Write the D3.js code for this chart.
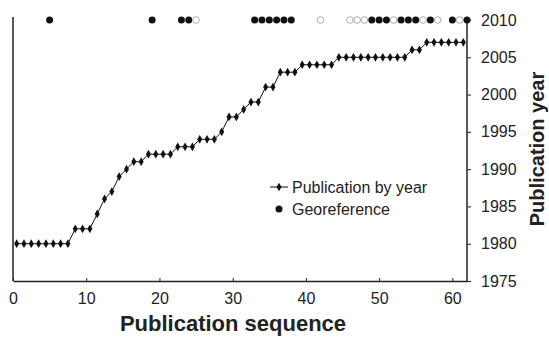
<!DOCTYPE html>
<html>
<head>
<meta charset="utf-8">
<script src="https://cdn.jsdelivr.net/npm/d3@7"></script>
<style>
  body { margin: 0; background: #fff; }
  svg text { font-family: "Liberation Sans", Arial, sans-serif; fill: #222; }
</style>
</head>
<body>
<div class="chart"></div>
<script>
// publication year of papers 1..62, in sequence order
const pubYears = [
    1980, 1980, 1980, 1980, 1980, 1980, 1980, 1980,
    1982, 1982, 1982, 1984, 1986, 1987, 1989, 1990,
    1991, 1991, 1992, 1992, 1992, 1992, 1993, 1993,
    1993, 1994, 1994, 1994, 1995, 1997, 1997, 1998,
    1999, 1999, 2001, 2001, 2003, 2003, 2003, 2004,
    2004, 2004, 2004, 2004, 2005, 2005, 2005, 2005,
    2005, 2005, 2005, 2005, 2005, 2005, 2006, 2006,
    2007, 2007, 2007, 2007, 2007, 2007
];
// georeferenced (filled) and not georeferenced (open) marks on the 2010 row, by sequence value
const geoFilled = [5, 19, 23, 24, 33, 34, 35, 36, 37, 38, 49, 50, 51, 53, 54, 55, 57, 60, 62];
const geoOpen = [25, 42, 46, 47, 48, 52, 56, 58, 61];
const xTicks = [0, 10, 20, 30, 40, 50, 60];
const yTicks = [1975, 1980, 1985, 1990, 1995, 2000, 2005, 2010];
const legendItems = ["Publication by year", "Georeference"];

const width = 549, height = 339;
const margin = {left: 13, right: 82, top: 20, bottom: 58};

const svg = d3.select(".chart").append("svg")
    .attr("width", width)
    .attr("height", height);

const x = d3.scaleLinear()
    .domain([0, 62])
    .range([margin.left, width - margin.right]);
// each paper sits in the middle of its own slot along the axis
const seq = d3.scaleBand()
    .domain(d3.range(1, 63))
    .range(x.range());
const sx = n => seq(n) + seq.bandwidth() / 2;
const y = d3.scaleLinear()
    .domain([1975, 2010])
    .range([height - margin.bottom, margin.top]);

const axisTop = y(2010) - 3;

// left frame line
svg.append("line")
    .attr("x1", x(0)).attr("x2", x(0))
    .attr("y1", axisTop).attr("y2", y(1975))
    .attr("stroke", "#222").attr("stroke-width", 1.5);

// bottom axis
const xAxis = svg.append("g")
    .attr("transform", `translate(0,${y(1975)})`)
    .call(d3.axisBottom(x).tickValues(xTicks).tickSize(0).tickPadding(12));
xAxis.select(".domain").attr("stroke", "#222").attr("stroke-width", 1.5);
xAxis.selectAll(".tick").append("line")
    .attr("y1", 0).attr("y2", -3).attr("stroke", "#222");
xAxis.selectAll("text").style("font-size", "16px").attr("fill", "#222");

// right axis
const yAxis = svg.append("g")
    .attr("transform", `translate(${x(62)},0)`)
    .call(d3.axisRight(y).tickValues(yTicks).tickSize(4).tickPadding(10).tickFormat(d3.format("d")));
yAxis.select(".domain").remove();
yAxis.append("line")
    .attr("x1", 0).attr("x2", 0)
    .attr("y1", axisTop).attr("y2", y(1975))
    .attr("stroke", "#222").attr("stroke-width", 1.5);
yAxis.selectAll(".tick line").attr("stroke", "#222");
yAxis.selectAll("text").style("font-size", "16px").attr("fill", "#222");

// axis titles
svg.append("text")
    .attr("x", 233).attr("y", 331)
    .attr("text-anchor", "middle")
    .style("font-size", "22px").style("font-weight", "bold")
    .text("Publication sequence");
svg.append("text")
    .attr("transform", `translate(544,149) rotate(-90)`)
    .attr("text-anchor", "middle")
    .style("font-size", "20px").style("font-weight", "bold")
    .text("Publication year");

// publication step line
const line = d3.line()
    .x((d, i) => sx(i + 1))
    .y(d => y(d));
svg.append("path")
    .datum(pubYears)
    .attr("d", line)
    .attr("fill", "none")
    .attr("stroke", "#111")
    .attr("stroke-width", 1);
const diamond = d3.symbol().type(d3.symbolDiamond).size(22);
svg.selectAll(".pub")
    .data(pubYears)
    .join("path")
    .attr("class", "pub")
    .attr("transform", (d, i) => `translate(${sx(i + 1)},${y(d)})`)
    .attr("d", diamond)
    .attr("fill", "#111");

// georeference row
svg.selectAll(".geo-open")
    .data(geoOpen)
    .join("circle")
    .attr("class", "geo-open")
    .attr("cx", d => x(d)).attr("cy", y(2010))
    .attr("r", 3.3)
    .attr("fill", "#fff")
    .attr("stroke", "#999")
    .attr("stroke-width", 0.8);
svg.selectAll(".geo-filled")
    .data(geoFilled)
    .join("circle")
    .attr("class", "geo-filled")
    .attr("cx", d => x(d)).attr("cy", y(2010))
    .attr("r", 3.5)
    .attr("fill", "#111");

// legend
const legend = svg.append("g").attr("transform", "translate(270,187)");
legend.append("line")
    .attr("x1", 0).attr("x2", 18)
    .attr("stroke", "#111");
legend.append("path")
    .attr("transform", "translate(9,0)")
    .attr("d", diamond)
    .attr("fill", "#111");
legend.append("circle")
    .attr("cx", 9).attr("cy", 22).attr("r", 3.5)
    .attr("fill", "#111");
legend.selectAll("text")
    .data(legendItems)
    .join("text")
    .attr("x", 22)
    .attr("y", (d, i) => i * 22 + 6)
    .style("font-size", "16px")
    .text(d => d);
</script>
</body>
</html>
